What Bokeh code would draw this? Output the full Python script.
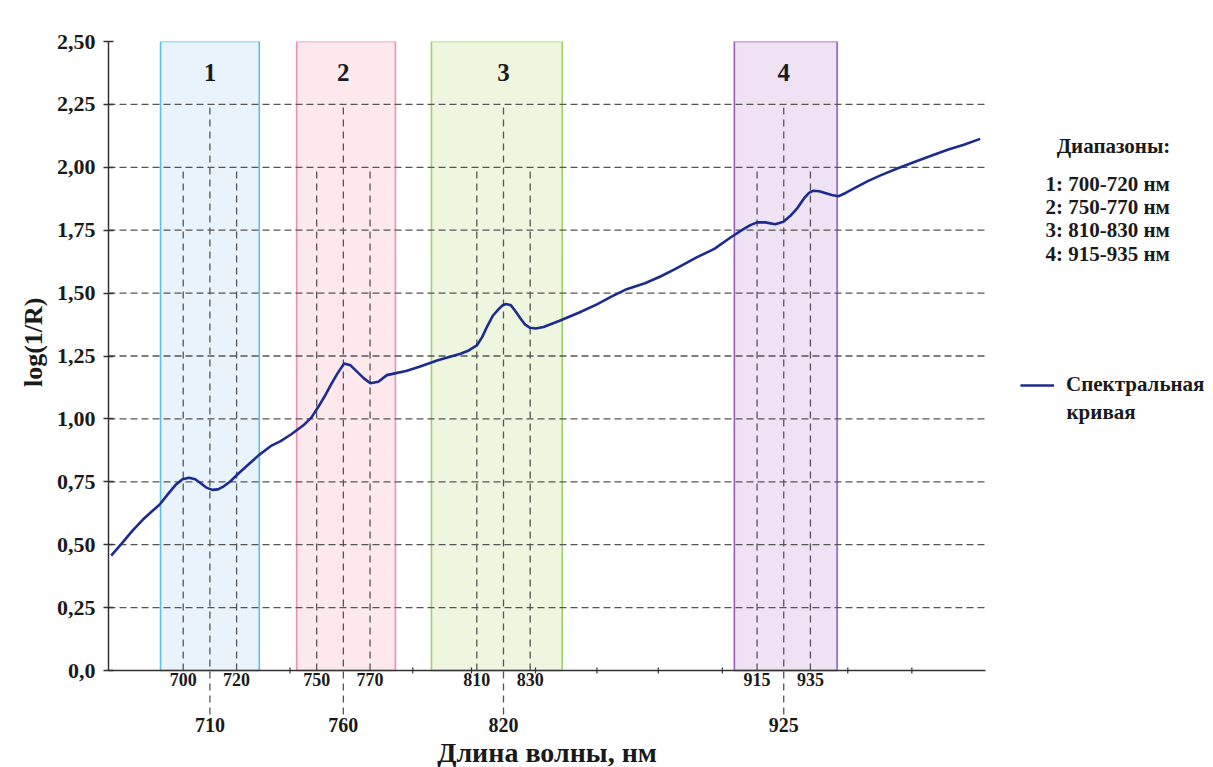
from bokeh.plotting import figure
from bokeh.models import Range1d, FixedTicker, ColumnDataSource, Legend, LegendItem, Title
from bokeh.core.properties import value
from bokeh.embed import file_html
from bokeh.resources import INLINE

# ---------------- data ----------------
wavelength = [673.0, 677, 681, 684.9, 688, 691.1, 694.2, 697, 699.7, 702.2, 704.5, 706.3,
              708.5, 710.9, 713, 715.2, 717.5, 720.7, 724, 728.1, 733.1, 736.5, 740.5,
              745.4, 748, 750.4, 753, 755.3, 757.8, 760.3, 762.7, 765.2, 767.7, 770.1,
              773.1, 776.3, 779.3, 783.5, 788.5, 795.4, 803.9, 807, 810, 812, 814, 816,
              818.1, 819.7, 821, 822.7, 824.5, 826.3, 828, 830, 832.1, 835, 840.8, 848.2,
              855, 860.6, 865.6, 873, 879, 884.8, 892, 899, 905.2, 909.9, 912.5, 915,
              918.1, 921.8, 924.9, 927.5, 930.2, 932.7, 934.5, 936.1, 938.3, 940.5, 943,
              945.5, 948.2, 951.7, 956.5, 961.7, 968, 974.2, 980.5, 986.7, 992.5, 998.6]
log_1_r = [0.457, 0.505, 0.556, 0.600, 0.630, 0.659, 0.700, 0.736, 0.760, 0.766, 0.760, 0.746,
           0.728, 0.718, 0.720, 0.732, 0.750, 0.783, 0.815, 0.854, 0.894, 0.912, 0.939,
           0.978, 1.005, 1.044, 1.090, 1.135, 1.181, 1.220, 1.213, 1.187, 1.161, 1.142,
           1.148, 1.174, 1.181, 1.190, 1.207, 1.233, 1.259, 1.272, 1.292, 1.325, 1.370, 1.410,
           1.435, 1.452, 1.457, 1.452, 1.428, 1.400, 1.376, 1.362, 1.359, 1.365, 1.389, 1.422,
           1.455, 1.487, 1.513, 1.539, 1.567, 1.598, 1.640, 1.676, 1.722, 1.754, 1.770, 1.781,
           1.781, 1.774, 1.784, 1.807, 1.839, 1.878, 1.898, 1.907, 1.905, 1.898, 1.890,
           1.885, 1.898, 1.918, 1.945, 1.970, 1.997, 2.022, 2.047, 2.071, 2.090, 2.113]

band_names = ["1", "2", "3", "4"]
band_center = [710, 760, 820, 925]
band_start = [691.5, 742.5, 793.0, 906.5]
band_end = [728.5, 779.5, 842.0, 945.0]
band_fill = ["#e8f3fb", "#fde8ee", "#eef6e0", "#efe2f4"]
band_line = ["#5bbfe6", "#f28fb3", "#9dd563", "#9a5bc8"]

side_ticks = [700, 720, 750, 770, 810, 830, 915, 935]
minor_ticks = [740, 786, 808, 832, 855, 878, 902, 949, 973]
x_start, x_end = 672.0, 1000.6

y_ticks = [0.0, 0.25, 0.5, 0.75, 1.0, 1.25, 1.5, 1.75, 2.0, 2.25, 2.5]
y_labels = ["0,0", "0,25", "0,50", "0,75", "1,00", "1,25", "1,50", "1,75", "2,00", "2,25", "2,50"]
grid_ticks = [0.25, 0.5, 0.75, 1.0, 1.25, 1.5, 1.75, 2.0, 2.25]

x_title = "Длина волны, нм"
y_title = "log(1/R)"
ranges_title = "Диапазоны:"
ranges_text = ["1: 700-720 нм", "2: 750-770 нм", "3: 810-830 нм", "4: 915-935 нм"]
series_label = ["Спектральная", "кривая"]

# ---------------- layout (pixels) ----------------
W, H = 1213, 767
FL, FT = 108, 41          # frame left / top
AX_R = 985                # right end of the x axis
AX_Y = 670                # pixel row of y = 0
PX_PER_NM = (AX_R - FL) / (x_end - x_start)
Y_PER_PX = 2.5 / (AX_Y - FT)


def px2x(px):
    return x_start + (px - FL) / PX_PER_NM


def px2y(py):
    return (AX_Y - py) * Y_PER_PX


SERIF = "Liberation Serif"
DARK = "#1a1a1a"
GRID = "#555555"
AXC = "#333333"

p = figure(width=W, height=H, output_backend="svg", toolbar_location=None,
           x_range=Range1d(x_start, px2x(W)), y_range=Range1d(px2y(H), 2.5),
           min_border_left=FL, min_border_right=0, min_border_top=FT,
           min_border_bottom=0)
p.outline_line_color = None
p.background_fill_color = "white"
p.border_fill_color = "white"
p.xaxis.visible = False
p.xgrid.visible = False
p.ygrid.visible = False

# bands
bsrc = ColumnDataSource(dict(left=band_start, right=band_end, fill=band_fill, line=band_line))
p.quad(left="left", right="right", bottom=0, top=2.5, source=bsrc,
       fill_color="fill", line_color="line", line_width=1.6, level="image")

# horizontal dashed grid, limited to the axis span
p.segment(x0=x_start, y0=grid_ticks, x1=x_end, y1=grid_ticks, line_color=GRID,
          line_dash="7 4", line_width=1.3, level="underlay")

# vertical dashed guides
p.segment(x0=side_ticks, y0=0, x1=side_ticks, y1=2.0, line_color=GRID,
          line_dash="7 5", line_width=1.3)
p.segment(x0=band_center, y0=-44 * Y_PER_PX, x1=band_center, y1=2.25, line_color=GRID,
          line_dash="7 5", line_width=1.3)

# x axis line and small ticks
p.segment(x0=[x_start], y0=[0], x1=[x_end], y1=[0], line_color=AXC, line_width=1.5)
p.segment(x0=minor_ticks, y0=3 * Y_PER_PX, x1=minor_ticks, y1=-3 * Y_PER_PX,
          line_color=AXC, line_width=1.2)

# band numbers
p.text(x=band_center, y=px2y(72), text=band_names, text_font=value(SERIF),
       text_font_style="bold", text_font_size="25px", text_align="center",
       text_baseline="middle", text_color=DARK)

# curve
curve = p.line(wavelength, log_1_r, line_color="#1b2b8e", line_width=2.6)

# x tick labels (two rows) and axis title
p.text(x=side_ticks, y=px2y(AX_Y + 2), text=[str(v) for v in side_ticks],
       text_font=value(SERIF), text_font_style="bold", text_font_size="18px",
       text_align="center", text_baseline="top", text_color=DARK)
p.text(x=band_center, y=px2y(AX_Y + 47), text=[str(v) for v in band_center],
       text_font=value(SERIF), text_font_style="bold", text_font_size="20px",
       text_align="center", text_baseline="top", text_color=DARK)
p.text(x=[(x_start + x_end) / 2], y=px2y(752), text=[x_title], text_font=value(SERIF),
       text_font_style="bold", text_font_size="28px", text_align="center",
       text_baseline="middle", text_color=DARK)

# y axis
yax = p.yaxis[0]
yax.bounds = (0, 2.5)
yax.ticker = FixedTicker(ticks=y_ticks)
yax.major_label_overrides = {t: l for t, l in zip(y_ticks, y_labels)}
yax.minor_tick_line_color = None
yax.major_tick_in = 5
yax.major_tick_out = 5
yax.major_label_standoff = 8
yax.major_label_text_font = SERIF
yax.major_label_text_font_style = "bold"
yax.major_label_text_font_size = "22px"
yax.major_label_text_color = DARK
yax.axis_line_color = AXC
yax.axis_line_width = 1.5
yax.major_tick_line_color = AXC
yax.major_tick_line_width = 1.3

# y axis title, placed along the 0..2.5 span
p.add_layout(Title(text=y_title, align="right", offset=256,
                   text_font=SERIF, text_font_style="bold", text_font_size="26px",
                   text_color=DARK, standoff=12), "left")

# ranges block
p.text(x=[px2x(1113)], y=px2y(145), text=[ranges_title], text_font=value(SERIF),
       text_font_style="bold", text_font_size="21px", text_align="center",
       text_baseline="middle", text_color=DARK)
p.text(x=[px2x(1045)] * 4, y=[px2y(v) for v in (183, 206, 229, 253)], text=ranges_text,
       text_font=value(SERIF), text_font_style="bold", text_font_size="21px",
       text_align="left", text_baseline="middle", text_color=DARK)

# legend
legend = Legend(items=[LegendItem(label=series_label[0], renderers=[curve])],
                location=(1020 - FL, H - 397), padding=0, margin=0, spacing=0,
                glyph_width=34, glyph_height=22, label_height=22, label_standoff=12,
                border_line_color=None, background_fill_alpha=0, label_text_font=SERIF,
                label_text_font_style="bold", label_text_font_size="21px",
                label_text_color=DARK, label_text_baseline="middle")
p.add_layout(legend)
p.text(x=[px2x(1066)], y=px2y(411), text=[series_label[1]], text_font=value(SERIF),
       text_font_style="bold", text_font_size="21px", text_align="left",
       text_baseline="middle", text_color=DARK)

open("out.html", "w").write(file_html(p, INLINE))
